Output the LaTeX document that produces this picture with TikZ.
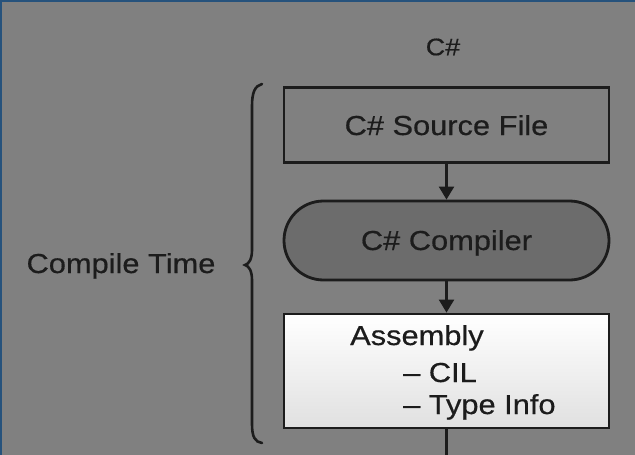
\documentclass[tikz,border=0pt]{standalone}
\usepackage{fontspec}
\setmainfont{Liberation Sans}[FakeStretch=1.12,FakeBold=0.5]
\usetikzlibrary{arrows.meta,shapes.misc}
\definecolor{bg}{RGB}{128,128,128}
\definecolor{ink}{RGB}{28,28,28}
\definecolor{comp}{RGB}{108,108,108}
\definecolor{edge}{RGB}{38,82,124}
\tikzset{
  boxstyle/.style={draw=ink, line width=2.8pt, minimum width=325pt, inner sep=0pt},
  flow/.style={draw=ink, line width=2.2pt, -{Triangle[width=15pt,length=13pt]}},
  lbl/.style={text=ink, font=\fontsize{27.5}{30}\selectfont, inner sep=0pt},
}
\begin{document}
\begin{tikzpicture}[x=1pt,y=-1pt]
\fill[bg] (0,0) rectangle (635,455);
\useasboundingbox (0,0) rectangle (635,455);
\draw[edge, line width=2pt] (1,455) -- (1,1) -- (635,1);
\node[lbl, font=\fontsize{24}{26}\selectfont] (title) at (443,47) {C\#};
\node[boxstyle, fill=bg, minimum height=75pt] (src) at (446.5,125) {};
\node[lbl, anchor=base] (srct) at (446.5,135) {C\# Source File};
\node[boxstyle, fill=comp, rounded rectangle, minimum height=79pt] (cmp) at (446.5,240.5) {};
\node[lbl, anchor=base] (cmpt) at (446.5,250) {C\# Compiler};
\node[boxstyle, top color=white, bottom color=black!12, minimum height=114pt] (asm) at (446.5,371) {};
\node[lbl, anchor=base west] (a1) at (350,345) {Assembly};
\node[lbl, anchor=base west] (a2) at (403,382) {– CIL};
\node[lbl, anchor=base west] (a3) at (403,414) {– Type Info};
\coordinate (out) at (446.5,456);
\draw[flow] (src.south) -- (cmp.north);
\draw[flow] (cmp.south) -- (asm.north);
\draw[draw=ink, line width=2.2pt] (asm.south) -- (out);
\node[lbl, anchor=base] (ct) at (121,273) {Compile Time};
\draw[ink, line width=2.6pt, line cap=round]
  (262,84) .. controls (255,86) and (252,92) .. (252,106) -- (252,250)
  .. controls (252,259) and (249,264) .. (245,265)
  .. controls (249,266) and (252,271) .. (252,280) -- (252,424)
  .. controls (252,437) and (255,442) .. (262,443);
\end{tikzpicture}
\end{document}
